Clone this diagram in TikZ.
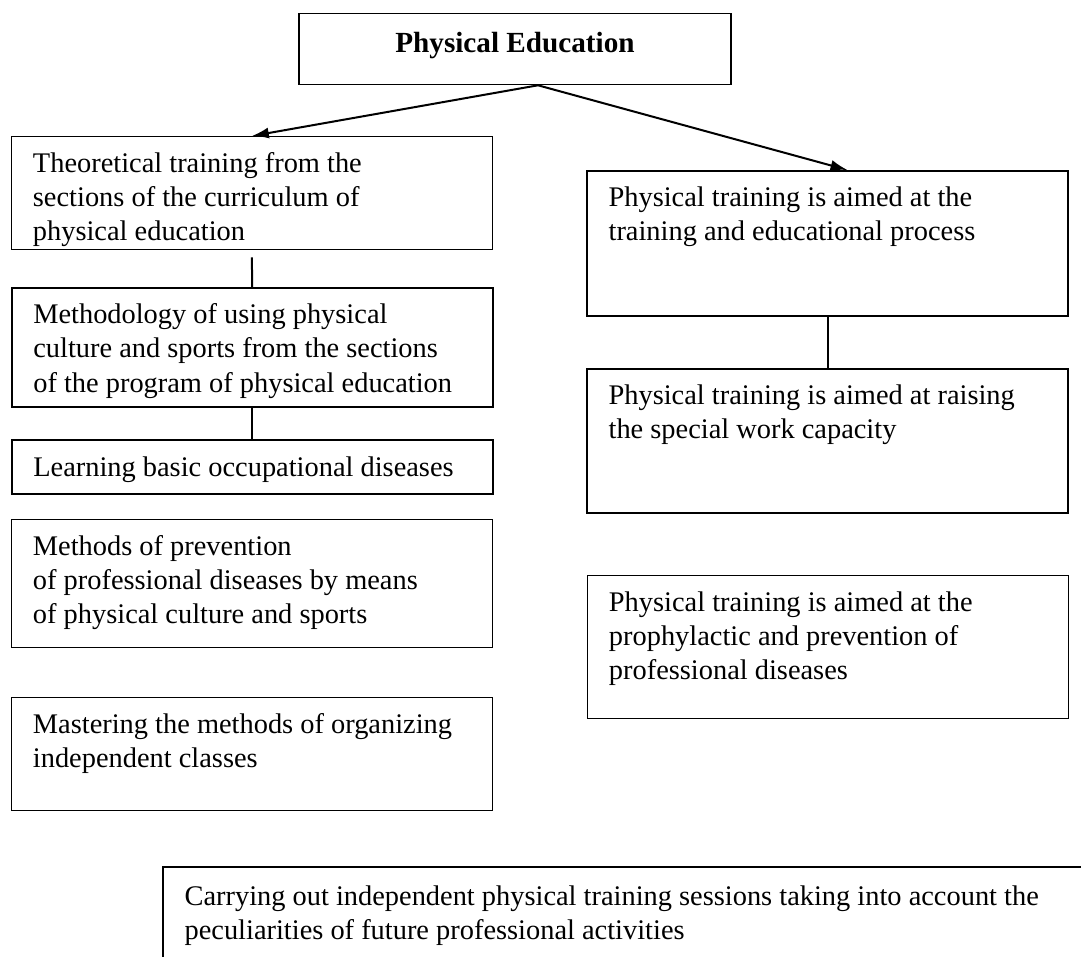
\documentclass[tikz,border=0pt]{standalone}
\usepackage{fontspec}
\setmainfont{Liberation Serif}
\usetikzlibrary{arrows.meta}

\begin{document}
\begin{tikzpicture}[x=1pt,y=-1pt,
	font=\fontsize{28.4}{34}\selectfont,
	box/.style={draw, line width=1.3pt, anchor=north west, inner xsep=21.6pt, inner ysep=0pt, text width=437.8pt, align=flush left, text height=36pt},
	heavy/.style={line width=2pt},
	link/.style={line width=2pt},
	arr/.style={line width=2pt, -{Latex[length=17pt,width=11pt]}}]
	\useasboundingbox (0,0) rectangle (1081,957);
	\clip (0,0) rectangle (1081,957);
	% top
	\node[draw, line width=1.3pt, anchor=north, minimum width=432pt, inner sep=0pt, text height=39pt, text depth=32.3pt, font=\fontsize{29.2}{34}\selectfont\bfseries] (pe) at (515,12.7) {Physical Education};
	% left column
	\node[box, text depth=77pt] (theory) at (10.7,136) {Theoretical training from the\\sections of the curriculum of\\physical education};
	\node[box, heavy, text depth=83pt] (method) at (10.7,287) {Methodology of using physical\\culture and sports from the sections\\of the program of physical education};
	\node[box, heavy, text depth=18pt] (learn) at (10.7,439) {Learning basic occupational diseases};
	\node[box, text depth=92pt] (prevent) at (10.7,519) {Methods of prevention\\of professional diseases by means\\of physical culture and sports};
	\node[box, text depth=77pt] (master) at (10.7,697) {Mastering the methods of organizing\\independent classes};
	% right column
	\node[box, heavy, text depth=109pt] (process) at (586,170) {Physical training is aimed at the\\training and educational process};
	\node[box, heavy, text depth=108pt] (capacity) at (586,367.7) {Physical training is aimed at raising\\the special work capacity};
	\node[box, text depth=107pt] (prophyl) at (586.7,575) {Physical training is aimed at the\\prophylactic and prevention of\\professional diseases};
	% bottom, runs off the page
	\node[box, heavy, text width=1000pt, text height=38pt, text depth=120pt] (sessions) at (162,866) {Carrying out independent physical training sessions taking into account the\\peculiarities of future professional activities};
	% connectors
	\draw[arr] ([xshift=23pt]pe.south) -- (theory.north);
	\draw[arr] ([xshift=23pt]pe.south) -- ([xshift=20pt]process.north);
	\draw[link] ([yshift=-7pt]theory.south) -- (method.north);
	\draw[link] (method) -- (learn);
	\draw[link] (process) -- (capacity);
\end{tikzpicture}
\end{document}
